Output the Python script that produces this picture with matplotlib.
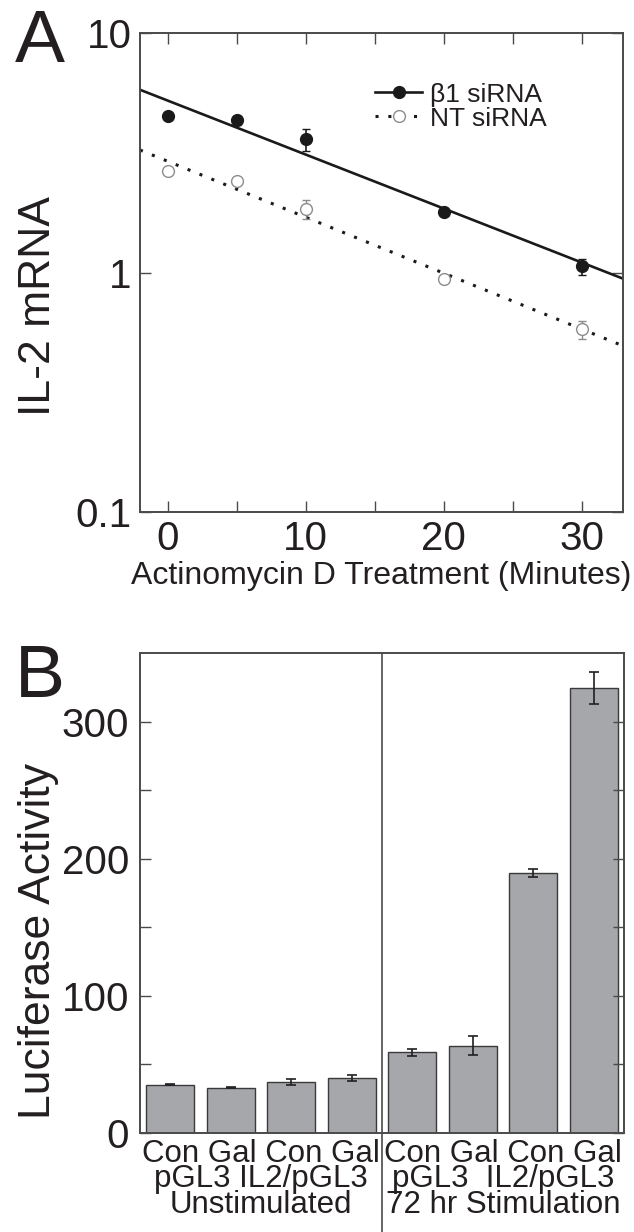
import numpy as np
import matplotlib
matplotlib.use('Agg')
import matplotlib.pyplot as plt
from matplotlib.ticker import NullLocator, FixedLocator

plt.rcParams['font.family'] = ['Liberation Sans', 'DejaVu Sans']
ink = '#231f20'
plt.rcParams['text.color'] = ink
plt.rcParams['axes.labelcolor'] = ink
plt.rcParams['xtick.color'] = ink
plt.rcParams['ytick.color'] = ink

# 数据 A: 放线菌素D处理时间
minutes = [0, 5, 10, 20, 30]
b1_mrna = [4.52, 4.32, 3.60, 1.79, 1.06]
b1_err = [0.08, 0.20, 0.37, 0.06, 0.08]
nt_mrna = [2.65, 2.40, 1.84, 0.94, 0.58]
nt_err = [0.08, 0.08, 0.17, 0.03, 0.05]

# 数据 B: 荧光素酶活性
bar_labels = ['Con', 'Gal', 'Con', 'Gal', 'Con', 'Gal', 'Con', 'Gal']
luc_values = [35.3, 33.0, 37.0, 39.9, 58.7, 63.8, 189.5, 324.5]
luc_err = [0.3, 0.5, 2.3, 2.1, 2.4, 7.0, 2.7, 11.5]
plasmid_labels = ['pGL3', 'IL2/pGL3', 'pGL3', 'IL2/pGL3']
condition_labels = ['Unstimulated', '72 hr Stimulation']

spine_c = '#4a4a4a'
dotted = (0, (1.0, 3.2))

fig = plt.figure(figsize=(6.34, 12.32), dpi=100)

# ---------- A ----------
axA = fig.add_axes([140/634, 1-512/1232, 483/634, 479/1232])
axA.set_yscale('log')
# 指数拟合 (对数线性)
xfit = np.linspace(-2, 33, 50)
p1 = np.polyfit(minutes, np.log10(b1_mrna), 1)
p2 = np.polyfit(minutes, np.log10(nt_mrna), 1)
axA.plot(xfit, 10**np.polyval(p1, xfit), color='#1a1a1a', lw=1.9, zorder=2)
axA.plot(xfit, 10**np.polyval(p2, xfit), color='#1a1a1a', lw=2.2,
         linestyle=dotted, zorder=2)
axA.errorbar(minutes, b1_mrna, yerr=b1_err, fmt='o', color='#1a1a1a', ms=8.5,
             capsize=3, elinewidth=1.2, zorder=3)
axA.errorbar(minutes, nt_mrna, yerr=nt_err, fmt='o', mfc='white', mec='#8c8c8c',
             ecolor='#8c8c8c', ms=8.5, mew=1.0, capsize=3, elinewidth=1.0, zorder=3)
# 图例
h1, = axA.plot([], [], color='#1a1a1a', lw=1.9, marker='o', ms=8.5)
h2, = axA.plot([], [], color='#1a1a1a', lw=2.2, linestyle=dotted,
               marker='o', ms=8.5, mfc='white', mec='#8c8c8c', mew=1.0)
axA.legend([h1, h2], ['\u03b21 siRNA', 'NT siRNA'], loc='upper left',
           bbox_to_anchor=(0.459, 0.924), frameon=False, fontsize=19,
           handlelength=1.8, handletextpad=0.3, labelspacing=0.0, borderpad=0)
axA.set_xlim(-2, 33)
axA.set_ylim(0.1, 10)
axA.set_yticks([0.1, 1, 10], labels=['0.1', '1', '10'])
axA.yaxis.set_minor_locator(NullLocator())
axA.set_xticks([0, 10, 20, 30])
axA.xaxis.set_minor_locator(FixedLocator([5, 15, 25]))
axA.tick_params(which='both', direction='in', top=True, right=True, length=8,
                width=1.0, labelsize=29, pad=6, color=spine_c)
axA.set_xlabel('Actinomycin D Treatment (Minutes)', fontsize=23, labelpad=2)
axA.text(-0.21, 0.43, 'IL-2 mRNA', rotation=90, fontsize=32,
         transform=axA.transAxes, ha='center', va='center')
for s in axA.spines.values():
    s.set_color(spine_c)
    s.set_linewidth(1.4)

# ---------- B ----------
axB = fig.add_axes([140/634, 1-1133/1232, 484/634, 480/1232])
xpos = np.arange(len(luc_values))
axB.bar(xpos, luc_values, width=0.8, color='#a6a7ab', edgecolor='#3a3a3a',
        linewidth=1.0, yerr=luc_err, capsize=3.5,
        error_kw=dict(ecolor=ink, elinewidth=1.2, capthick=1.2))
axB.set_xlim(-0.5, 7.5)
axB.set_ylim(0, 350)
axB.set_yticks([0, 100, 200, 300])
axB.yaxis.set_minor_locator(FixedLocator([50, 150, 250]))
axB.tick_params(axis='y', which='both', direction='in', right=True, length=8,
                width=1.0, labelsize=29, pad=8, color=spine_c)
# 分组标签: 每组一个三行刻度标签
group_text = [
    ' '.join(bar_labels[0:4]) + '\n' + ' '.join(plasmid_labels[0:2]) + '\n' + condition_labels[0],
    ' '.join(bar_labels[4:8]) + '\n' + '  '.join(plasmid_labels[2:4]) + '\n' + condition_labels[1],
]
axB.set_xticks([1.5, 5.5], labels=group_text)
axB.tick_params(axis='x', length=0, labelsize=22.5, pad=4)
for lbl in axB.get_xticklabels():
    lbl.set_linespacing(0.82)
axB.text(-0.21, 0.40, 'Luciferase Activity', rotation=90, fontsize=32,
         transform=axB.transAxes, ha='center', va='center')
for s in axB.spines.values():
    s.set_color(spine_c)
    s.set_linewidth(1.4)
# 分隔线
axB.plot([3.5, 3.5], [1.0, -0.21], color=spine_c, lw=1.2,
         transform=axB.get_xaxis_transform(), clip_on=False)

fig.text(15/634, 1-62/1232, 'A', fontsize=54, va='baseline', ha='left')
fig.text(15/634, 1-697/1232, 'B', fontsize=54, va='baseline', ha='left')

fig.savefig('out.png', dpi=100)
